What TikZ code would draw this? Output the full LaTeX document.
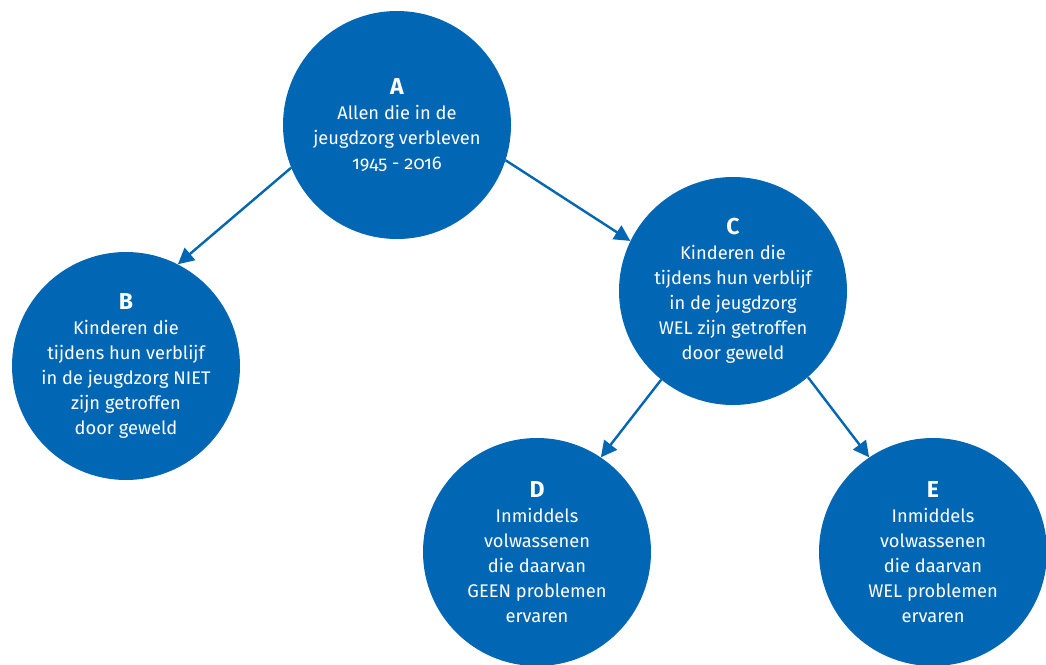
\documentclass[tikz,border=0pt]{standalone}
\usepackage{fontspec}
\setmainfont{Fira Sans}[Numbers=OldStyle]
\usetikzlibrary{positioning}
\usetikzlibrary{arrows.meta}
\definecolor{rvoblue}{RGB}{1,102,179}
\newcommand{\grpletter}[1]{{\fontsize{23}{27}\selectfont\bfseries #1}}

\begin{document}
\begin{tikzpicture}[x=1pt, y=1pt, on grid,
                groupnode/.style={circle, fill=rvoblue, text=white, minimum size=228pt, inner sep=0pt, align=center, font=\fontsize{18.3}{25}\selectfont},
                arrowline/.style={-{Triangle[length=16pt, width=16pt]}, draw=rvoblue, line width=2.4pt},
            ]
            \useasboundingbox (0,0) rectangle (1046,-664);
            % Nodes
            \node[groupnode]    (A)    at (397,-125)    {\grpletter{A}\\Allen die in de\\jeugdzorg verbleven\\1945 - 2016};
            \node[groupnode]    (B)    [below left=241pt and 271pt of A]    {\grpletter{B}\\Kinderen die\\tijdens hun verblijf\\in de jeugdzorg NIET\\zijn getroffen\\door geweld};
            \node[groupnode]    (C)    [below right=166pt and 336pt of A]    {\grpletter{C}\\Kinderen die\\tijdens hun verblijf\\in de jeugdzorg\\WEL zijn getroffen\\door geweld};
            \node[groupnode]    (D)    [below left=261pt and 196pt of C]    {\grpletter{D}\\Inmiddels\\volwassenen\\die daarvan\\GEEN problemen\\ervaren};
            \node[groupnode]    (E)    [below right=261pt and 200pt of C]    {\grpletter{E}\\Inmiddels\\volwassenen\\die daarvan\\WEL problemen\\ervaren};

            % Lines
            \draw[arrowline] (A.202) -- (B.63);
            \draw[arrowline] (A.342) -- (C.154);
            \draw[arrowline] (C.231) -- (D.56);
            \draw[arrowline] (C.311) -- (E.124);
        \end{tikzpicture}
\end{document}
